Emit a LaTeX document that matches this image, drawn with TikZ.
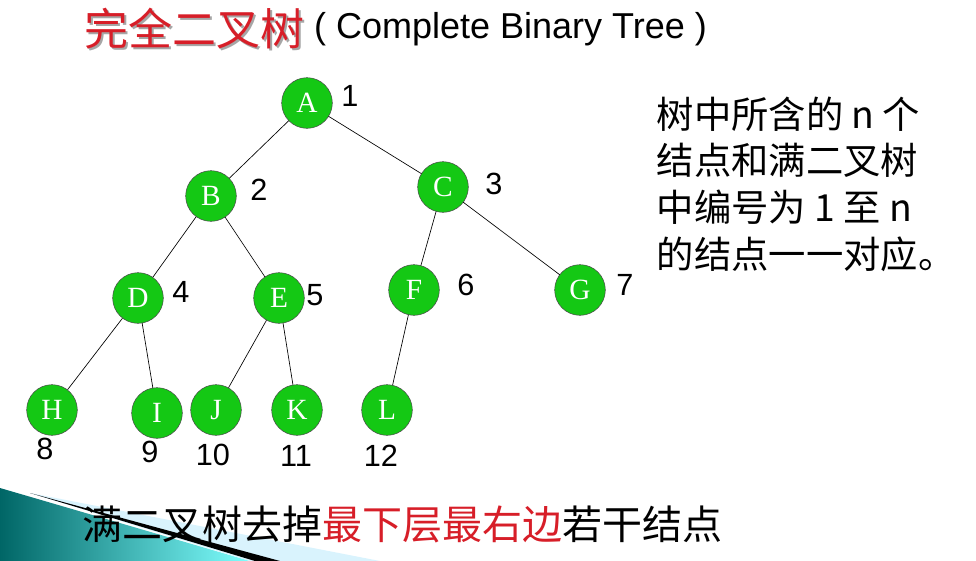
\documentclass[tikz,border=0pt]{standalone}
\usepackage{fontspec}
\setmainfont{Liberation Serif}
\setsansfont{Liberation Sans}
\newfontfamily\cjk{Noto Sans CJK SC}
\usetikzlibrary{shadows}
\definecolor{nodegreen}{RGB}{20,200,20}
\definecolor{titlered}{RGB}{215,30,40}
\tikzset{
  treenode/.style={circle,draw=black!70,fill=nodegreen,minimum size=38pt,inner sep=0pt,
    text=white,font=\fontsize{22}{22}\selectfont},
  numlabel/.style={font=\sffamily\fontsize{23}{23}\selectfont},
  edge/.style={line width=0.5pt}
}
\begin{document}
\begin{tikzpicture}[x=0.75pt,y=-0.75pt,line cap=round,line join=round]
\useasboundingbox (0,0) rectangle (976,561);
% swoosh
\shade[left color=teal!80!black,right color=cyan!50] (0,488) -- (250,561) -- (0,561) -- cycle;
\fill[cyan!15] (30,493) -- (380,561) -- (250,561) -- cycle;
\fill[black] (30,493) -- (280,561) -- (255,561) -- cycle;
% title
\node[anchor=west,font=\cjk\fontsize{33}{33}\selectfont,text=black!35] at (81.5,30.5) {完全二叉树};
\node[anchor=west,font=\cjk\fontsize{33}{33}\selectfont,text=titlered] (title) at (80,29) {完全二叉树};
\node[anchor=west,font=\sffamily\fontsize{27}{27}\selectfont] at (title.east) {( Complete Binary Tree )};
% nodes
\node[treenode] (A) at (307,103) {A};
\node[treenode] (B) at (211,196) {B};
\node[treenode] (C) at (443,187) {C};
\node[treenode] (D) at (138,298) {D};
\node[treenode] (E) at (279,298) {E};
\node[treenode] (F) at (414,290) {F};
\node[treenode] (G) at (580,290) {G};
\node[treenode] (H) at (52,410) {H};
\node[treenode] (I) at (157,413) {I};
\node[treenode] (J) at (216,410) {J};
\node[treenode] (K) at (297,410) {K};
\node[treenode] (L) at (387,410) {L};
% edges
\foreach \p/\c in {A/B,A/C,B/D,B/E,C/F,C/G,D/H,D/I,E/J,E/K,F/L}
  \draw[edge] (\p) -- (\c);
% numbers
\foreach \t/\x/\y in {1/350/96,2/259/190,3/494/184,4/181/292,5/315/295,6/466/285,7/625/285,
  8/45/449,9/150/452,10/213/455,11/296/456,12/381/456}
  \node[numlabel] (n\t) at (\x,\y) {\t};
% side text
\node[anchor=north west,align=left,font=\cjk\fontsize{28}{35}\selectfont] (side) at (652,92)
  {树中所含的 n 个\\结点和满二叉树\\中编号为 1 至 n\\的结点一一对应。};
% bottom text
\node[anchor=west,font=\cjk\fontsize{30}{30}\selectfont] (bottom) at (78,524)
  {满二叉树去掉\textcolor{titlered}{最下层最右边}若干结点};
\end{tikzpicture}
\end{document}
